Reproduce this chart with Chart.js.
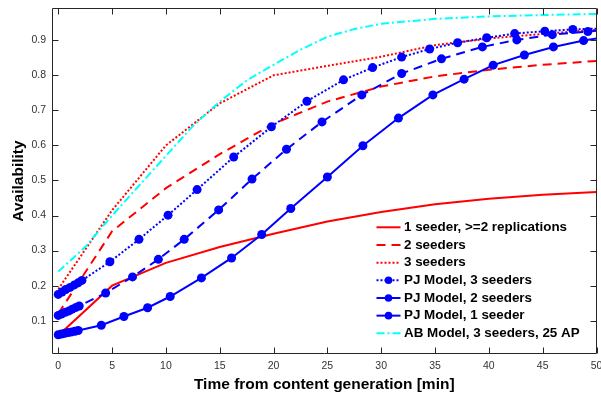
<!DOCTYPE html>
<html>
<head>
<meta charset="utf-8">
<script src="https://cdn.jsdelivr.net/npm/chart.js@4/dist/chart.umd.min.js"></script>
<style>html,body{margin:0;padding:0;background:#fff;overflow:hidden}canvas{display:block}</style>
</head>
<body>
<canvas id="c" width="601" height="398"></canvas>
<script>
// ---- data ----
const seriesLabels = [
  "1 seeder, >=2 replications",
  "2 seeders",
  "3 seeders",
  "PJ Model, 3 seeders",
  "PJ Model, 2 seeders",
  "PJ Model, 1 seeder",
  "AB Model, 3 seeders, 25 AP"
];
const xTickValues = [0, 5, 10, 15, 20, 25, 30, 35, 40, 45, 50];
const yTickValues = [0.1, 0.2, 0.3, 0.4, 0.5, 0.6, 0.7, 0.8, 0.9];

const simTime = [0, 5, 10, 15, 20, 25, 30, 35, 40, 45, 50];
const sim1Seeder  = [0.058, 0.200, 0.265, 0.310, 0.348, 0.383, 0.410, 0.432, 0.448, 0.459, 0.467];
const sim2Seeders = [0.120, 0.355, 0.478, 0.575, 0.662, 0.725, 0.768, 0.797, 0.816, 0.830, 0.841];
const sim3Seeders = [0.190, 0.415, 0.600, 0.720, 0.800, 0.827, 0.853, 0.886, 0.905, 0.918, 0.930];

const pj3Time = [0, 0.35, 0.7, 1.1, 1.5, 1.85, 2.2, 4.8, 7.5, 10.2, 12.9, 16.3, 19.8, 23.1, 26.5, 29.2, 31.9, 34.5, 37.1, 39.8, 42.4, 45.2, 47.8, 50];
const pj3Avail = [0.175, 0.182, 0.189, 0.195, 0.202, 0.208, 0.215, 0.268, 0.332, 0.401, 0.474, 0.567, 0.653, 0.726, 0.787, 0.822, 0.852, 0.875, 0.893, 0.907, 0.919, 0.926, 0.931, 0.933];

const pj2Time = [0, 0.3, 0.65, 1.0, 1.3, 1.65, 1.95, 4.4, 6.9, 9.3, 11.7, 14.9, 18.0, 21.2, 24.5, 28.2, 31.9, 35.6, 39.4, 42.6, 45.9, 49.2, 50];
const pj2Avail = [0.115, 0.119, 0.124, 0.128, 0.133, 0.138, 0.142, 0.179, 0.225, 0.275, 0.332, 0.416, 0.504, 0.589, 0.667, 0.744, 0.805, 0.847, 0.881, 0.901, 0.916, 0.925, 0.927];

const pj1Time = [0, 0.3, 0.6, 0.95, 1.25, 1.55, 1.85, 4.0, 6.1, 8.3, 10.4, 13.3, 16.1, 18.9, 21.6, 25.0, 28.3, 31.6, 34.8, 37.7, 40.4, 43.3, 46.0, 48.8, 50];
const pj1Avail = [0.060, 0.062, 0.064, 0.066, 0.068, 0.070, 0.072, 0.087, 0.112, 0.137, 0.169, 0.222, 0.279, 0.346, 0.420, 0.510, 0.599, 0.678, 0.744, 0.789, 0.829, 0.858, 0.881, 0.899, 0.905];

const abTime = [0, 2.5, 5, 7.5, 10, 12.5, 15, 17.5, 20, 22.5, 25, 27.5, 30, 35, 40, 45, 50];
const abAvail = [0.240, 0.310, 0.400, 0.485, 0.570, 0.655, 0.725, 0.785, 0.830, 0.873, 0.910, 0.932, 0.947, 0.961, 0.968, 0.972, 0.975];

// ---- helpers ----
const pts = (t, a) => t.map((x, i) => ({x: x, y: a[i]}));
const RED = '#ff0000', BLUE = '#0000ff', CYAN = '#00ffff';
const DASH = [9, 6], DOT = [2, 2], DASHDOT = [8, 3, 2, 3];
const markerRadius = ctx => (ctx.dataIndex === ctx.dataset.data.length - 1 ? 0 : 4.5);

function lineDs(label, data, color, dash, marker, order) {
  return {
    label: label, data: data, borderColor: color, backgroundColor: color,
    borderWidth: 2, borderDash: dash, showLine: true, tension: 0,
    pointRadius: marker ? markerRadius : 0,
    pointHoverRadius: 0,
    pointBackgroundColor: color, pointBorderColor: color, pointBorderWidth: 0,
    legendMarker: marker, order: order
  };
}

const datasets = [
  lineDs(seriesLabels[0], pts(simTime, sim1Seeder), RED, [], false, 7),
  lineDs(seriesLabels[1], pts(simTime, sim2Seeders), RED, DASH, false, 6),
  lineDs(seriesLabels[2], pts(simTime, sim3Seeders), RED, DOT, false, 5),
  lineDs(seriesLabels[3], pts(pj3Time, pj3Avail), BLUE, DOT, true, 4),
  lineDs(seriesLabels[4], pts(pj2Time, pj2Avail), BLUE, DASH, true, 3),
  lineDs(seriesLabels[5], pts(pj1Time, pj1Avail), BLUE, [], true, 2),
  lineDs(seriesLabels[6], pts(abTime, abAvail), CYAN, DASHDOT, false, 1)
];

const AXIS = '#262626';
const framePlugin = {
  id: 'frame',
  afterDatasetsDraw(chart) {
    const {ctx, chartArea: a, scales: {x, y}} = chart;
    const L = Math.floor(a.left) + 0.5, R = Math.ceil(a.right) - 0.5;
    const T = Math.floor(a.top) + 0.5, B = Math.ceil(a.bottom) - 0.5;
    ctx.save();
    ctx.strokeStyle = AXIS; ctx.lineWidth = 1; ctx.setLineDash([]);
    ctx.beginPath();
    ctx.rect(L, T, R - L, B - T);
    const tl = 6;
    xTickValues.forEach(v => {
      const p = Math.round(x.getPixelForValue(v)) + 0.5;
      ctx.moveTo(p, B); ctx.lineTo(p, B - tl);
      ctx.moveTo(p, T); ctx.lineTo(p, T + tl);
    });
    yTickValues.forEach(v => {
      const p = Math.round(y.getPixelForValue(v)) + 0.5;
      ctx.moveTo(L, p); ctx.lineTo(L + tl, p);
      ctx.moveTo(R, p); ctx.lineTo(R - tl, p);
    });
    ctx.stroke();
    ctx.restore();
  }
};

const legendPlugin = {
  id: 'insideLegend',
  afterDraw(chart) {
    const {ctx, chartArea: a} = chart;
    const x0 = a.right - 220, x1 = a.right - 196, tx = a.right - 192.5;
    const y0 = a.top + 219.3, step = 17.67;
    ctx.save();
    ctx.font = 'bold 13.4px "Liberation Sans", Arial, Helvetica, sans-serif';
    ctx.textBaseline = 'middle';
    ctx.textAlign = 'left';
    chart.data.datasets.forEach((ds, i) => {
      const yy = y0 + i * step;
      ctx.strokeStyle = ds.borderColor;
      ctx.lineWidth = ds.borderWidth;
      ctx.setLineDash(ds.borderDash || []);
      ctx.beginPath(); ctx.moveTo(x0, yy); ctx.lineTo(x1, yy); ctx.stroke();
      ctx.setLineDash([]);
      if (ds.legendMarker) {
        ctx.fillStyle = ds.borderColor;
        ctx.beginPath(); ctx.arc((x0 + x1) / 2, yy, 3.8, 0, Math.PI * 2); ctx.fill();
      }
      ctx.fillStyle = '#000';
      ctx.fillText(ds.label, tx, yy);
    });
    ctx.restore();
  }
};

const tickFont = {family: '"Liberation Sans", Arial, Helvetica, sans-serif', size: 10.5};
const titleFont = {family: '"Liberation Sans", Arial, Helvetica, sans-serif', size: 15.5, weight: 'bold'};

new Chart(document.getElementById('c'), {
  type: 'line',
  data: {datasets: datasets},
  plugins: [framePlugin, legendPlugin],
  options: {
    responsive: false,
    animation: false,
    devicePixelRatio: 1,
    layout: {padding: {top: 8, right: 4, left: 0, bottom: 0}},
    plugins: {legend: {display: false}, tooltip: {enabled: false}},
    events: [],
    scales: {
      x: {
        type: 'linear', min: -0.58, max: 50,
        grid: {display: false, drawTicks: false},
        border: {display: false},
        afterBuildTicks: s => { s.ticks = xTickValues.map(v => ({value: v})); },
        afterFit: s => { s.height = 44; s.paddingLeft = 0; s.paddingRight = 0; },
        ticks: {font: tickFont, color: '#333', padding: 6, maxRotation: 0, autoSkip: false,
                callback: v => String(v)},
        title: {display: true, text: 'Time from content generation [min]', font: titleFont,
                color: '#000', padding: {top: 0, bottom: 4}}
      },
      y: {
        type: 'linear', min: 0.005, max: 0.992,
        grid: {display: false, drawTicks: false},
        border: {display: false},
        afterBuildTicks: s => { s.ticks = yTickValues.map(v => ({value: v})); },
        afterFit: s => { s.width = 52; s.paddingTop = 0; s.paddingBottom = 0; },
        ticks: {font: tickFont, color: '#333', padding: 6, autoSkip: false,
                callback: v => Number(v).toFixed(1)},
        title: {display: true, text: 'Availability', font: titleFont,
                color: '#000', padding: {top: 9, bottom: 0}}
      }
    }
  }
});
</script>
</body>
</html>
